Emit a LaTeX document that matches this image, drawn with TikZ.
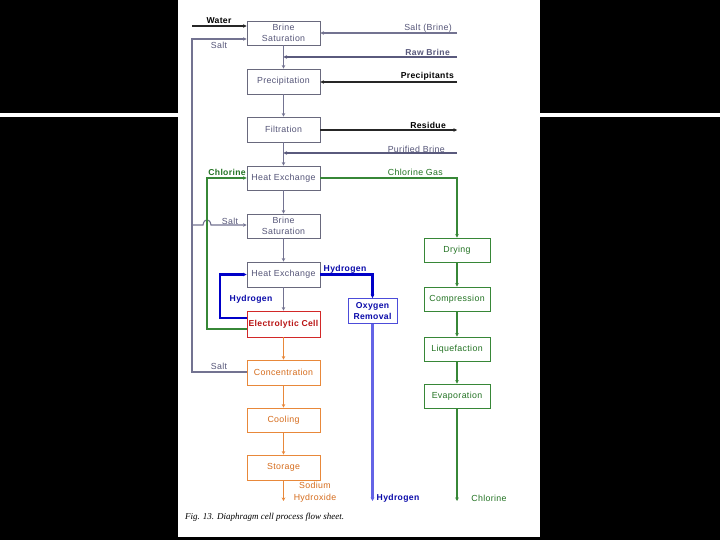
\documentclass[tikz,border=0pt]{standalone}
\usepackage{fontspec}
\setmainfont[LetterSpace=4]{Liberation Sans}
\newfontfamily\capfont{Liberation Serif}
\usetikzlibrary{arrows.meta}
\definecolor{slateline}{RGB}{115,115,145}
\definecolor{slatetext}{RGB}{85,85,120}
\definecolor{rawline}{RGB}{90,90,125}
\definecolor{grnline}{RGB}{55,135,55}
\definecolor{grntext}{RGB}{35,115,35}
\definecolor{redline}{RGB}{210,40,40}
\definecolor{redtext}{RGB}{185,20,20}
\definecolor{orgline}{RGB}{232,136,58}
\definecolor{orgtext}{RGB}{214,108,28}
\definecolor{hydline}{RGB}{0,0,200}
\definecolor{hydlight}{RGB}{100,100,230}
\definecolor{hydtext}{RGB}{10,10,170}
\definecolor{boxline}{RGB}{105,105,125}
\tikzset{
  >={Stealth[length=3.5pt,width=3.5pt]},
  box/.style={draw=boxline, line width=0.9pt, minimum width=73pt, minimum height=24pt,
    inner sep=0pt, align=center, font=\fontsize{8.8}{11}\selectfont, text=slatetext, fill=white},
  gbox/.style={box, draw=grnline, text=grntext, minimum width=66pt},
  obox/.style={box, draw=orgline, text=orgtext},
  rbox/.style={box, draw=redline, text=redtext, font=\fontsize{8.6}{11}\selectfont\bfseries},
  bbox/.style={box, draw=hydline!70, text=hydtext, minimum width=49pt, minimum height=25pt, font=\fontsize{8.6}{11}\selectfont\bfseries},
  lbl/.style={inner sep=0pt, font=\fontsize{8.8}{10}\selectfont},
  blbl/.style={lbl, font=\fontsize{8.6}{10}\selectfont\bfseries},
  sline/.style={draw=slateline, line width=1.1pt},
  kline/.style={draw=black!85, line width=1.3pt},
  gline/.style={draw=grnline, line width=1.1pt},
  oline/.style={draw=orgline, line width=1.1pt},
  hline/.style={draw=hydline, line width=2.2pt},
  hline2/.style={draw=hydlight, line width=2.8pt},
}
\begin{document}
\begin{tikzpicture}[x=1pt,y=-1pt]
\useasboundingbox (0,0) rectangle (720,540);
\fill[black] (0,0) rectangle (720,540);
\fill[white] (178,0) rectangle (540,537);
\fill[white] (0,113) rectangle (720,117);

% main column boxes
\node[box] (bs1) at (283.5,33) {Brine\\Saturation};
\node[box, minimum height=25pt] (prec) at (283.5,81.5) {Precipitation};
\node[box, minimum height=25pt] (filt) at (283.5,129.5) {Filtration};
\node[box] (he1) at (283.5,178) {Heat Exchange};
\node[box] (bs2) at (283.5,226) {Brine\\Saturation};
\node[box, minimum height=25pt] (he2) at (283.5,274.5) {Heat Exchange};
\node[rbox, minimum height=26pt] (ec) at (283.5,324) {Electrolytic Cell};
\node[obox, minimum height=25pt] (conc) at (283.5,372.5) {Concentration};
\node[obox] (cool) at (283.5,420) {Cooling};
\node[obox, minimum height=25pt] (stor) at (283.5,467.5) {Storage};
% chlorine column
\node[gbox] (dry) at (457,250) {Drying};
\node[gbox] (comp) at (457,299) {Compression};
\node[gbox] (liq) at (457,349) {Liquefaction};
\node[gbox] (evap) at (457,396) {Evaporation};
% oxygen removal
\node[bbox] (oxy) at (372.5,311) {Oxygen\\Removal};

% free-end coordinates
\coordinate (w0) at (192,26);
\coordinate (st) at (192,39);
\coordinate (sb) at (192,372);
\coordinate (sm) at (192,225);
\coordinate (sbr) at (457,33);
\coordinate (rb) at (457,57);
\coordinate (pp) at (457,82);
\coordinate (rs) at (457,130);
\coordinate (pb) at (457,153);
\coordinate (gl) at (207,329);
\coordinate (hl) at (220,318);
\coordinate (hb) at (372.5,501);
\coordinate (nb) at (283.5,501);
\coordinate (cb) at (457,501);

% main spine
\draw[sline,->] (bs1) -- (prec);
\draw[sline,->] (prec) -- (filt);
\draw[sline,->] (filt) -- (he1);
\draw[sline,->] (he1) -- (bs2);
\draw[sline,->] (bs2) -- (he2);
\draw[sline,->] (he2) -- (ec);
\draw[oline,->] (ec) -- (conc);
\draw[oline,->] (conc) -- (cool);
\draw[oline,->] (cool) -- (stor);
\draw[oline,->] (stor) -- (nb);

% green column
\draw[gline,->] (dry) -- (comp);
\draw[gline,->] (comp) -- (liq);
\draw[gline,->] (liq) -- (evap);
\draw[gline,->] (evap) -- (cb);

% inputs / outputs at top
\draw[kline,->] (w0) -- (w0 -| bs1.west);
\draw[sline,->] (conc.west |- sb) -- (sb) -- (st) -- (st -| bs1.west);
\draw[sline,->] (sbr) -- (sbr -| bs1.east);
\draw[draw=rawline, line width=1.8pt,->] (rb) -- (rb -| bs1.south);
\draw[kline,->] (pp) -- (pp -| prec.east);
\draw[kline,->] (rs -| filt.east) -- (rs);
\draw[draw=rawline, line width=1.5pt,->] (pb) -- (pb -| filt.south);
\draw[sline,->] (sm) -- (203,225) .. controls (204,218) and (210,218) .. (211,225) -- (sm -| bs2.west);

% chlorine
\draw[gline,->] (he1.east) -- (he1.east -| dry.north) -- (dry.north);
\draw[gline,->] (gl -| ec.west) -- (gl) |- (he1.west);

% hydrogen
\draw[hline,->] (hl -| ec.west) -- (hl) |- (he2.west);
\draw[hline,->] (he2.east) -| (oxy.north);
\draw[hline2,->] (oxy.south) -- (hb);

% labels
\node[blbl] (lw) at (219,21) {Water};
\node[lbl, text=slatetext] (ls1) at (219,45) {Salt};
\node[lbl, text=slatetext, anchor=east] (lsb) at (452,28) {Salt (Brine)};
\node[blbl, text=rawline, anchor=east] (lrb) at (450,52) {Raw Brine};
\node[blbl, anchor=east] (lpp) at (454,76) {Precipitants};
\node[blbl, anchor=east] (lrs) at (446,125) {Residue};
\node[lbl, text=slatetext, anchor=east] (lpb) at (445,149) {Purified Brine};
\node[lbl, text=grntext, anchor=east] (lcg) at (443,172) {Chlorine Gas};
\node[blbl, text=grntext] (lcl) at (227,172) {Chlorine};
\node[lbl, text=slatetext] (ls2) at (230,221) {Salt};
\node[blbl, text=hydtext] (lh1) at (251,299) {Hydrogen};
\node[blbl, text=hydtext] (lh2) at (345,269) {Hydrogen};
\node[lbl, text=slatetext] (ls3) at (219,366) {Salt};
\node[lbl, text=orgtext, align=center, font=\fontsize{8.8}{12}\selectfont] (lna) at (315,492) {Sodium\\Hydroxide};
\node[blbl, text=hydtext] (lh3) at (398,498) {Hydrogen};
\node[lbl, text=grntext] (lc2) at (489,498) {Chlorine};
\node[inner sep=0pt, anchor=west, font=\capfont\itshape\fontsize{9}{10}\selectfont] (cap) at (185,517) {Fig. 13. Diaphragm cell process flow sheet.};
\end{tikzpicture}
\end{document}
